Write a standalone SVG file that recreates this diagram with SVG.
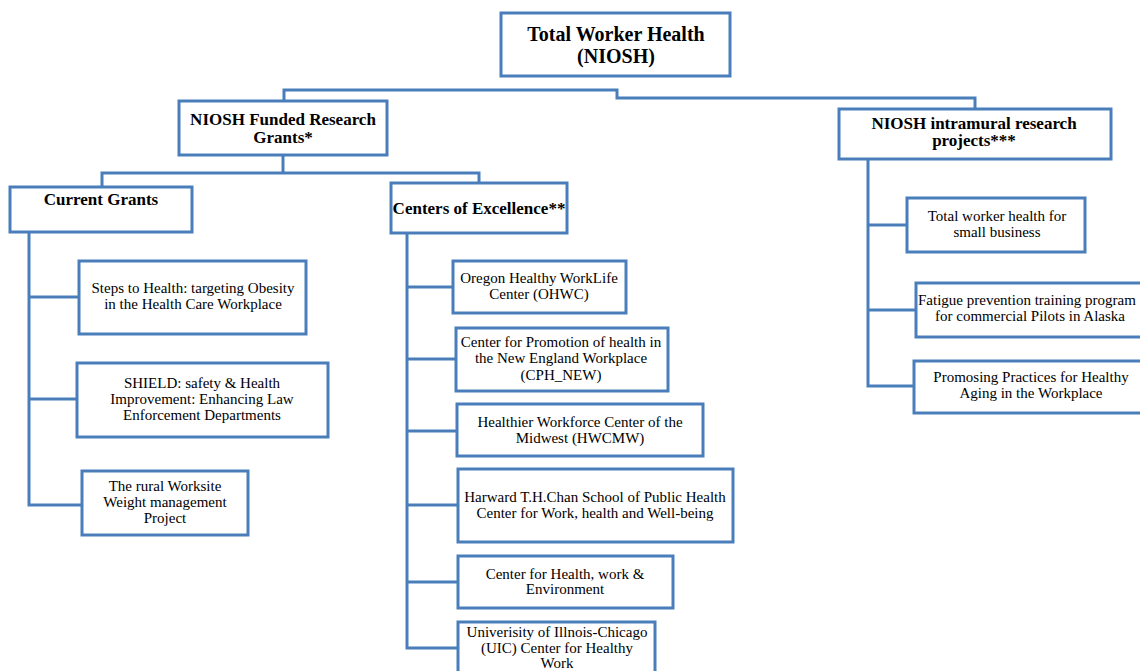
<svg xmlns="http://www.w3.org/2000/svg" width="1140" height="671" viewBox="0 0 1140 671">
<style>
.box{fill:#fff;stroke:#4a7ebb;stroke-width:3}
.ln{fill:none;stroke:#4a7ebb;stroke-width:3;stroke-linejoin:miter}
.h{font-family:"Liberation Serif","Times New Roman",serif;font-weight:bold;fill:#000;text-anchor:middle}
.t{font-family:"Liberation Serif","Times New Roman",serif;font-size:15px;fill:#000;text-anchor:middle}
.t.s{text-anchor:start}
</style>
<rect width="1140" height="671" fill="#fff"/>
<g id="connectors">
<path class="ln" d="M284,101 V90 H617 V98 H975 V108"/>
<path class="ln" d="M283,155 V173"/>
<path class="ln" d="M102,187 V173 H479 V183"/>
<path class="ln" d="M29,232 V505 H82 M29,297 H79 M29,399 H77"/>
<path class="ln" d="M407,233 V648 H458 M407,287 H453 M407,359 H456 M407,431 H457 M407,505 H458 M407,582 H458"/>
<path class="ln" d="M868,159 V386 H914 M868,225 H907 M868,310 H916"/>
</g>
<g id="root">
<rect class="box" x="501" y="13" width="229" height="63"/>
<text class="h" font-size="20" x="616" y="41">Total Worker Health</text>
<text class="h" font-size="20" x="616" y="63">(NIOSH)</text>
</g>
<g id="funded">
<rect class="box" x="179" y="101" width="208" height="54"/>
<text class="h" font-size="17" x="283" y="125">NIOSH Funded Research</text>
<text class="h" font-size="17" x="283" y="143">Grants*</text>
</g>
<g id="intramural">
<rect class="box" x="839" y="109" width="272" height="50"/>
<text class="h" font-size="17" x="974" y="129">NIOSH intramural research</text>
<text class="h" font-size="17" x="974" y="146">projects***</text>
</g>
<g id="current">
<rect class="box" x="10" y="187" width="182" height="45"/>
<text class="h" font-size="17" x="101" y="205">Current Grants</text>
</g>
<g id="centers">
<rect class="box" x="391" y="183" width="176" height="50"/>
<text class="h" font-size="17" x="479" y="214">Centers of Excellence**</text>
</g>
<g id="steps">
<rect class="box" x="79" y="261" width="227" height="73"/>
<text class="t" x="193" y="293">Steps to Health: targeting Obesity</text>
<text class="t" x="193" y="309">in the Health Care Workplace</text>
</g>
<g id="shield">
<rect class="box" x="77" y="363" width="251" height="74"/>
<text class="t" x="202" y="388">SHIELD: safety &amp; Health</text>
<text class="t" x="202" y="404">Improvement: Enhancing Law</text>
<text class="t" x="202" y="420">Enforcement Departments</text>
</g>
<g id="rural">
<rect class="box" x="82" y="471" width="166" height="64"/>
<text class="t" x="165" y="491">The rural Worksite</text>
<text class="t" x="165" y="507">Weight management</text>
<text class="t" x="165" y="523">Project</text>
</g>
<g id="oregon">
<rect class="box" x="453" y="261" width="173" height="52"/>
<text class="t" x="539" y="283">Oregon Healthy WorkLife</text>
<text class="t" x="539" y="299">Center (OHWC)</text>
</g>
<g id="cph">
<rect class="box" x="456" y="328" width="212" height="63"/>
<text class="t" x="561" y="347">Center for Promotion of health in</text>
<text class="t" x="561" y="363">the New England Workplace</text>
<text class="t" x="561" y="380">(CPH_NEW)</text>
</g>
<g id="hwcmw">
<rect class="box" x="457" y="404" width="246" height="52"/>
<text class="t" x="580" y="427">Healthier Workforce Center of the</text>
<text class="t" x="580" y="443">Midwest (HWCMW)</text>
</g>
<g id="harward">
<rect class="box" x="458" y="469" width="275" height="73"/>
<text class="t" x="595" y="502">Harward T.H.Chan School of Public Health</text>
<text class="t" x="595" y="518">Center for Work, health and Well-being</text>
</g>
<g id="chwe">
<rect class="box" x="458" y="556" width="215" height="52"/>
<text class="t" x="565" y="579">Center for Health, work &amp;</text>
<text class="t" x="565" y="594">Environment</text>
</g>
<g id="uic">
<rect class="box" x="458" y="622" width="197" height="60"/>
<text class="t" x="557" y="637">Univerisity of Illnois-Chicago</text>
<text class="t" x="557" y="653">(UIC) Center for Healthy</text>
<text class="t" x="557" y="668">Work</text>
</g>
<g id="small">
<rect class="box" x="907" y="198" width="178" height="54"/>
<text class="t" x="997" y="221">Total worker health for</text>
<text class="t" x="997" y="237">small business</text>
</g>
<g id="fatigue">
<rect class="box" x="916" y="283" width="240" height="54"/>
<text class="t s" x="918" y="305">Fatigue prevention training program</text>
<text class="t" x="1030" y="321">for commercial Pilots in Alaska</text>
</g>
<g id="aging">
<rect class="box" x="914" y="361" width="240" height="52"/>
<text class="t" x="1031" y="382">Promosing Practices for Healthy</text>
<text class="t" x="1031" y="398">Aging in the Workplace</text>
</g>
</svg>
